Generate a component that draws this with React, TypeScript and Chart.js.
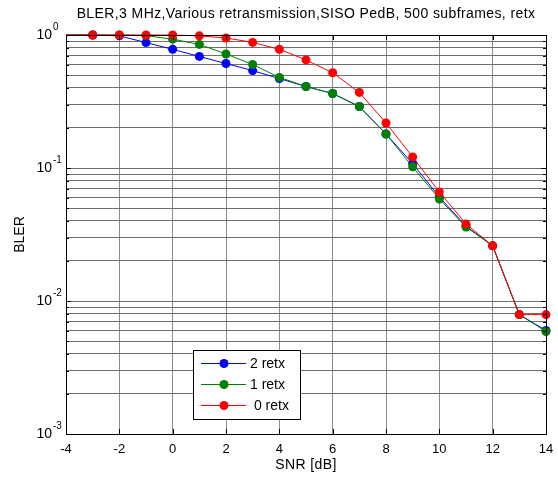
import React, { useEffect, useRef } from "react";
import { Chart, registerables } from "chart.js";

Chart.register(...registerables);

const snr = [-4, -3, -2, -1, 0, 1, 2, 3, 4, 5, 6, 7, 8, 9, 10, 11, 12, 13, 14];
const bler2retx = [1, 1, 0.985, 0.877, 0.78, 0.69, 0.61, 0.54, 0.47, 0.41, 0.363, 0.29, 0.18, 0.108, 0.0605, 0.0365, 0.026, 0.0079, 0.006];
const bler1retx = [1, 1, 1, 0.99, 0.93, 0.85, 0.72, 0.6, 0.48, 0.41, 0.363, 0.29, 0.18, 0.102, 0.0585, 0.036, 0.026, 0.0079, 0.0059];
const bler0retx = [1, 1, 1, 1, 1, 0.985, 0.95, 0.88, 0.78, 0.65, 0.52, 0.37, 0.218, 0.121, 0.066, 0.038, 0.026, 0.0079, 0.0079];
const seriesLabels = ["2 retx", "1 retx", "0 retx"];
const seriesColors = ["#0000ff", "#008000", "#ff0000"];
const xTicks = [-4, -2, 0, 2, 4, 6, 8, 10, 12, 14];
const yDecades = [-3, -2, -1, 0];
const titleText = "BLER,3 MHz,Various retransmission,SISO PedB, 500 subframes, retx";
const xLabel = "SNR [dB]";
const yLabel = "BLER";

const FONT = "Arial, 'Liberation Sans', Helvetica, sans-serif";

export default function App() {
  const ref = useRef<HTMLCanvasElement | null>(null);

  useEffect(() => {
    document.body.style.margin = "0";
    const canvas = ref.current;
    if (!canvas) return;

    const yTickValues: number[] = [];
    for (const d of yDecades) {
      if (d === 0) {
        yTickValues.push(1);
      } else {
        for (let m = 1; m <= 9; m++) yTickValues.push(m * Math.pow(10, d));
      }
    }

    const decorPlugin = {
      id: "decor",
      afterDraw(chart: any) {
        const ctx = chart.ctx as any;
        const area = chart.chartArea;
        const xs = chart.scales.x;
        const ys = chart.scales.y;
        ctx.save();
        ctx.strokeStyle = "#000";
        ctx.lineWidth = 1;
        ctx.strokeRect(Math.round(area.left) + 0.5, Math.round(area.top) + 0.5, Math.round(area.right - area.left), Math.round(area.bottom - area.top));
        ctx.beginPath();
        for (const v of xTicks) {
          const px = Math.round(xs.getPixelForValue(v)) + 0.5;
          ctx.moveTo(px, area.bottom);
          ctx.lineTo(px, area.bottom - 5);
          ctx.moveTo(px, area.top);
          ctx.lineTo(px, area.top + 5);
        }
        for (const v of yTickValues) {
          const py = Math.round(ys.getPixelForValue(v)) + 0.5;
          const major = Math.abs(Math.log10(v) - Math.round(Math.log10(v))) < 1e-9;
          const len = major ? 5 : 3;
          ctx.moveTo(area.left, py);
          ctx.lineTo(area.left + len, py);
          ctx.moveTo(area.right, py);
          ctx.lineTo(area.right - len, py);
        }
        ctx.stroke();

        ctx.fillStyle = "#000";
        ctx.font = `10px ${FONT}`;
        ctx.textAlign = "left";
        ctx.textBaseline = "middle";
        for (const d of yDecades) {
          const py = ys.getPixelForValue(Math.pow(10, d));
          ctx.fillText(String(d), area.left - 13, py - 8);
        }

        ctx.font = `14px ${FONT}`;
        ctx.letterSpacing = "0.4px";
        ctx.textAlign = "center";
        ctx.textBaseline = "middle";
        ctx.fillText(titleText, (area.left + area.right) / 2, 14);

        ctx.fillText(xLabel, (area.left + area.right) / 2, 465);

        ctx.letterSpacing = "0px";
        ctx.save();
        ctx.translate(20, (area.top + area.bottom) / 2);
        ctx.rotate(-Math.PI / 2);
        ctx.fillText(yLabel, 0, 0);
        ctx.restore();

        const lx = 193.5, ly = 350.5, lw = 107, lh = 69;
        ctx.fillStyle = "#fff";
        ctx.fillRect(lx, ly, lw, lh);
        ctx.strokeStyle = "#000";
        ctx.strokeRect(lx, ly, lw, lh);
        const rows = [363, 384, 405];
        for (let i = 0; i < 3; i++) {
          const ry = rows[i] + 0.5;
          ctx.strokeStyle = seriesColors[i];
          ctx.beginPath();
          ctx.moveTo(201, ry);
          ctx.lineTo(246, ry);
          ctx.stroke();
          ctx.fillStyle = seriesColors[i];
          ctx.beginPath();
          ctx.arc(224, ry, 4.5, 0, Math.PI * 2);
          ctx.fill();
          ctx.fillStyle = "#000";
          ctx.font = `14px ${FONT}`;
          ctx.textAlign = "left";
          ctx.fillText(i === 2 ? " " + seriesLabels[i] : seriesLabels[i], 250, ry + 1);
        }
        ctx.restore();
      },
    };

    const series = [
      { data: bler0retx, color: seriesColors[2], label: seriesLabels[2], order: 0 },
      { data: bler1retx, color: seriesColors[1], label: seriesLabels[1], order: 1 },
      { data: bler2retx, color: seriesColors[0], label: seriesLabels[0], order: 2 },
    ];

    const chart = new Chart(canvas, {
      type: "line",
      data: {
        datasets: series.map((s) => ({
          label: s.label,
          data: snr.map((x, i) => ({ x, y: s.data[i] })),
          borderColor: s.color,
          backgroundColor: s.color,
          borderWidth: 1,
          pointRadius: snr.map((x) => (x === -4 ? 0 : 4.5)),
          pointBorderWidth: 0,
          pointBackgroundColor: s.color,
          tension: 0,
          order: s.order,
          clip: 6,
        })),
      },
      options: {
        animation: false,
        responsive: false,
        maintainAspectRatio: false,
        layout: { padding: { top: 35, right: 12, left: 0, bottom: 0 } },
        plugins: {
          legend: { display: false },
          tooltip: { enabled: false },
          title: { display: false },
        },
        scales: {
          x: {
            type: "linear",
            min: -4,
            max: 14,
            border: { display: false },
            afterBuildTicks: (scale: any) => {
              scale.ticks = xTicks.map((v) => ({ value: v }));
            },
            afterFit: (scale: any) => {
              scale.height = 43;
              scale.paddingRight = 0;
              scale.paddingLeft = 0;
            },
            grid: { color: "#8a8a8a", lineWidth: 1, drawTicks: false },
            ticks: {
              autoSkip: false,
              maxRotation: 0,
              padding: 8,
              color: "#000",
              font: { family: FONT, size: 13 },
              callback: (v: any) => String(v),
            },
          },
          y: {
            type: "logarithmic",
            min: 0.001,
            max: 1,
            border: { display: false },
            afterBuildTicks: (scale: any) => {
              scale.ticks = yTickValues.map((v) => ({ value: v }));
            },
            afterFit: (scale: any) => {
              scale.width = 66;
              scale.paddingTop = 0;
              scale.paddingBottom = 0;
            },
            grid: { color: "#6e6e6e", lineWidth: 1, drawTicks: false },
            ticks: {
              autoSkip: false,
              padding: 14,
              color: "#000",
              font: { family: FONT, size: 14 },
              callback: (v: any) => {
                const l = Math.log10(Number(v));
                return Math.abs(l - Math.round(l)) < 1e-9 ? "10" : "";
              },
            },
          },
        },
      },
      plugins: [decorPlugin],
    } as any);

    return () => chart.destroy();
  }, []);

  return (
    <div style={{ width: 558, height: 477, background: "#fff" }}>
      <canvas ref={ref} width={558} height={477} style={{ display: "block" }} />
    </div>
  );
}
